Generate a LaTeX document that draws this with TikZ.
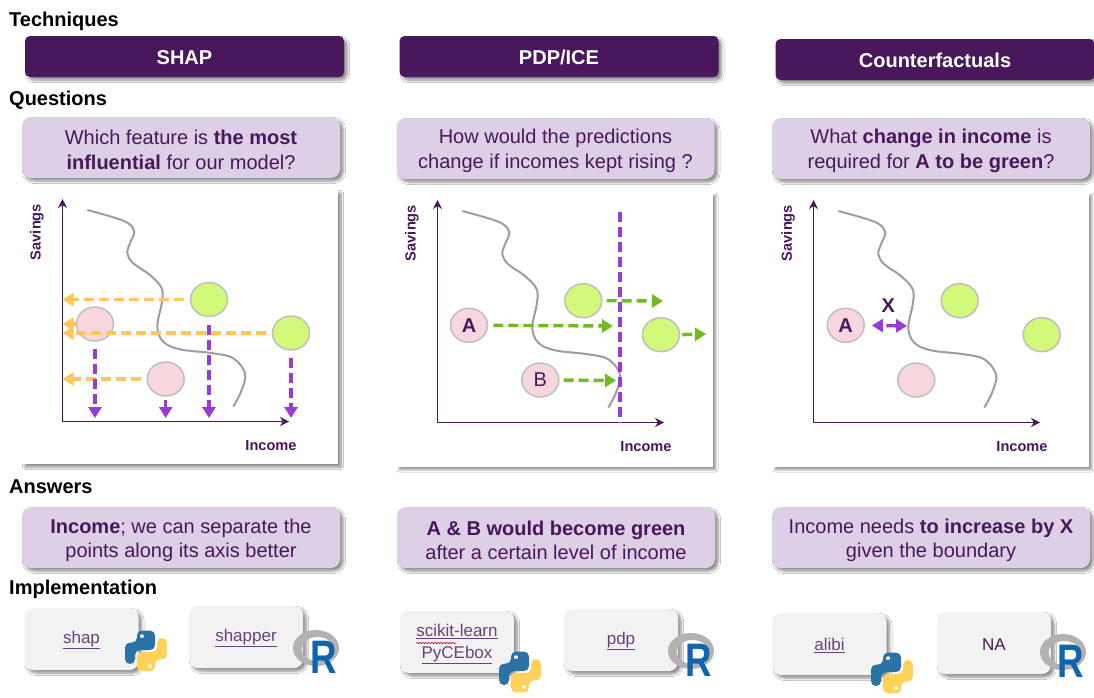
\documentclass[tikz,border=0pt]{standalone}
\usepackage{fontspec}
\setmainfont{Liberation Sans}
\usetikzlibrary{arrows.meta,shapes.geometric,shadows.blur,decorations.pathmorphing}

\definecolor{deeppurple}{HTML}{49175C}
\definecolor{lilac}{HTML}{DDD0E6}
\definecolor{linkpurple}{HTML}{6B4080}
\definecolor{vivid}{HTML}{9B3BD6}
\definecolor{amber}{HTML}{FFC65C}
\definecolor{leaf}{HTML}{70BC20}
\definecolor{limefill}{HTML}{D2F97A}
\definecolor{rosefill}{HTML}{F8D6DE}

\tikzset{
    softshadow/.style={blur shadow={shadow xshift=3pt, shadow yshift=-3pt, shadow blur steps=8, shadow blur radius=2.5pt, shadow opacity=45}},
    droptext/.style={execute at begin node={\rule{0pt}{#1}}},
    headlabel/.style={anchor=west, inner sep=0, font=\fontsize{20}{24}\selectfont\bfseries},
    techbox/.style={rectangle, rounded corners=5, fill=deeppurple, text=white, minimum width=319, minimum height=41, inner sep=0, softshadow, droptext=16.5pt, font=\fontsize{20}{24}\selectfont\bfseries},
    askbox/.style={rectangle, rounded corners=9, fill=lilac, minimum width=318, minimum height=61, inner sep=0, softshadow},
    asktext/.style={inner sep=0, text=deeppurple, align=center, yshift=-2pt, font=\fontsize{20}{25}\selectfont},
    anstext/.style={inner sep=0, text=deeppurple, align=center, yshift=-2.5pt, font=\fontsize{20}{24}\selectfont},
    panelbox/.style={rectangle, fill=white, minimum width=316, minimum height=274, inner sep=0, softshadow},
    implbox/.style={rectangle, rounded corners=9, fill=black!5, text=linkpurple, minimum width=114, minimum height=62, inner sep=0, align=center, softshadow, font=\fontsize{17}{22}\selectfont},
    axislabel/.style={inner sep=0, text=deeppurple, font=\fontsize{14.6}{16}\selectfont\bfseries},
    limept/.style={ellipse, draw=black!25, line width=1.5pt, fill=limefill, minimum width=37, minimum height=34, inner sep=0},
    rosept/.style={ellipse, draw=black!25, line width=1.5pt, fill=rosefill, minimum width=37, minimum height=34, inner sep=0, text=deeppurple, font=\fontsize{20}{24}\selectfont\bfseries},
    fatdash/.style={line width=3.4pt, dash pattern=on 10pt off 5pt},
    amberline/.style={fatdash, amber, -{Triangle[length=11pt,width=13pt]}},
    vividline/.style={fatdash, vivid, -{Triangle[length=11pt,width=13pt]}},
    leafline/.style={fatdash, leaf, -{Triangle[length=11pt,width=13pt]}},
    pylogo/.pic={
        \fill[rounded corners=5, fill={rgb,255:red,43;green,115;blue,166}] (-9,-22)--(9,-22)--(9,-1)--(-11,-1)--(-11,14)--(-21,14)--(-21,-9)--(-9,-9)--cycle;
        \fill[rounded corners=5, fill={rgb,255:red,255;green,210;blue,90}] (9,22)--(-9,22)--(-9,1)--(11,1)--(11,-14)--(21,-14)--(21,9)--(9,9)--cycle;
        \fill[white] (-4,-16)circle(2);
        \fill[white] (4,16)circle(2);
    },
    rlogo/.pic={
        \fill[black!30, even odd rule] (0,0)ellipse(23 and 18) (1.5,1)ellipse(16 and 12);
        \node[inner sep=0, text={rgb,255:red,15;green,100;blue,175}, font=\fontsize{47}{47}\selectfont\bfseries] (rmark) at (8,9){\scalebox{0.78}[1]{R}};
    }
}

\newcommand{\chartbase}[1]{
    \coordinate (#1o) at (62.5,421.5);
    \coordinate (#1t) at (62.5,199);
    \coordinate (#1r) at (289,421.5);
    \draw[-{Stealth[length=9pt,width=9pt]}, line width=1.2pt, deeppurple] (#1o)--(#1t);
    \draw[-{Stealth[length=9pt,width=9pt]}, line width=1.2pt, deeppurple] (#1o)--(#1r);
    \draw[black!38, line width=2pt] plot[smooth, tension=0.6] coordinates {(87.3,210) (113.3,217.3) (128.3,223.3) (134.3,231.7) (130,243.3) (127.3,253.3) (133.3,263.3) (150,275) (161.7,288.3) (161.7,303.3) (157.3,326.7) (163.3,341.7) (180,349.3) (213.3,353.3) (233.3,358.3) (245,373.3) (241.7,390) (233.3,406.7)};
    \node[axislabel, rotate=90] (#1sav) at (37,232){Savings};
    \node[axislabel] (#1inc) at (271,446){Income};
}

\begin{document}
\begin{tikzpicture}[x=1pt, y=-1pt]
    \useasboundingbox (0,0) rectangle (1094,697);
    \fill[white] (0,0) rectangle (1094,697);

    % headings
    \node[headlabel] (headtech) at (9,21.5){Techniques};
    \node[headlabel] (headask) at (9,100){Questions};
    \node[headlabel] (headans) at (9,487){Answers};
    \node[headlabel] (headimpl) at (9,589){Implementation};

    \node[techbox] (techshap) at (184.5,56.5){SHAP};
    \node[techbox] (techpdp) at (559,56.5){PDP/ICE};
    \node[techbox] (techcf) at (935,59.5){Counterfactuals};

    \node[askbox] (askshap) at (181,147.5){};
    \node[askbox] (askpdp) at (555.5,148.5){};
    \node[askbox] (askcf) at (931,148.5){};
    \node[asktext] (askshaptxt) at (askshap.center){Which feature is \textbf{the most}\\\textbf{influential} for our model?};
    \node[asktext] (askpdptxt) at (askpdp.center){How would the predictions\\change if incomes kept rising ?};
    \node[asktext] (askcftxt) at (askcf.center){What \textbf{change in income} is\\required for \textbf{A to be green}?};

    \node[panelbox] (panelshap) at (180,327){};
    \node[panelbox] (panelpdp) at (554.5,329.5){};
    \node[panelbox] (panelcf) at (930.5,329.5){};

    % SHAP chart
    \chartbase{s}
    \coordinate (sfoot) at (62.5,418);
    \node[limept] (sg1) at (209,299.5){};
    \node[limept] (sg2) at (291,333){};
    \node[rosept] (sp1) at (95,324){};
    \node[rosept] (sp2) at (165.7,379){};
    \draw[amberline, shorten <=6pt] (sg1.west)--(sg1.west-|so);
    \draw[amberline, shorten <=6pt] (sg2.west)--(sg2.west-|so);
    \draw[amberline] (sp1.west)--(sp1.west-|so);
    \draw[amberline, shorten <=5pt] (sp2.west)--(sp2.west-|so);
    \draw[vividline, shorten <=7pt] (sp1.south)--(sp1.south|-sfoot);
    \draw[vividline, shorten <=3pt] (sp2.south)--(sp2.south|-sfoot);
    \draw[vividline, shorten <=8pt] (sg1.south)--(sg1.south|-sfoot);
    \draw[vividline, shorten <=7pt] (sg2.south)--(sg2.south|-sfoot);

    % PDP chart
    \begin{scope}[shift={(375,1)}]
        \chartbase{d}
        \node[limept] (dg1) at (208.3,299.7){};
        \node[limept] (dg2) at (286,333.7){};
        \node[rosept] (dA) at (94,324.3){A};
        \node[rosept, font=\fontsize{20}{24}\selectfont] (dB) at (165.3,379){B};
        \coordinate (dtop) at (245,210.7);
        \coordinate (dlow) at (245,421.7);
    \end{scope}
    \draw[vivid, fatdash] (dtop)--(dlow);
    \coordinate (dend1) at (663,301);
    \coordinate (dend2) at (706,334);
    \coordinate (dend3) at (613,326);
    \coordinate (dend4) at (616,380.5);
    \draw[leafline, shorten <=4pt] (dg1.east)--(dend1);
    \draw[leafline, shorten <=2pt] (dg2.east)--(dend2);
    \draw[leafline, shorten <=5pt] (dA.east)--(dend3);
    \draw[leafline, shorten <=4pt] (dB.east)--(dend4);

    % counterfactual chart
    \begin{scope}[shift={(751,1)}]
        \chartbase{c}
        \node[limept] (cg1) at (208.7,299.7){};
        \node[limept] (cg2) at (290.7,333.7){};
        \node[rosept] (cA) at (94.7,324.3){A};
        \node[rosept] (cp) at (165.3,379){};
        \node[inner sep=0, text=deeppurple, font=\fontsize{20}{24}\selectfont\bfseries] (cX) at (137.3,305){X};
        \coordinate (cedge) at (156,325);
    \end{scope}
    \draw[vivid, line width=3.4pt, dash pattern=on 0pt off 4pt on 20pt off 0pt, {Triangle[length=11pt,width=13pt]}-{Triangle[length=11pt,width=13pt]}, shorten <=7pt] (cA.east)--(cedge);

    \node[askbox] (ansshap) at (181,537.5){};
    \node[askbox] (anspdp) at (556,537.5){};
    \node[askbox] (anscf) at (931,537.5){};
    \node[anstext] (ansshaptxt) at (ansshap.center){\textbf{Income}; we can separate the\\points along its axis better};
    \node[anstext] (anspdptxt) at (anspdp.center){\textbf{A \& B would become green}\\after a certain level of income};
    \node[anstext] (anscftxt) at (anscf.center){Income needs \textbf{to increase by X}\\given the boundary};

    % implementations
    \node[implbox, droptext=15pt] (implshap) at (81.5,639){\underline{shap}};
    \node[implbox, droptext=15pt] (implshapper) at (246,637){\underline{shapper}};
    \node[implbox] (implsk) at (457,642){};
    \node[inner sep=0, text=linkpurple, align=center, yshift=-2pt, font=\fontsize{17}{22}\selectfont] (impltxt) at (implsk.center){\underline{scikit-learn}\\\underline{PyCEbox}};
    \node[implbox, droptext=15pt] (implpdp) at (621,640){\underline{pdp}};
    \node[implbox, droptext=15pt] (implali) at (829.5,644){\underline{alibi}};
    \node[implbox, droptext=15pt, text=deeppurple] (implna) at (994,643){NA};
    \draw[red!70!black, line width=0.5pt, decorate, decoration={snake, amplitude=0.7pt, segment length=3pt}] ([xshift=-41pt,yshift=-1pt]implsk.center)--([xshift=-1pt,yshift=-1pt]implsk.center);

    \pic[yscale=0.93] at (146,651){pylogo};
    \pic[yscale=0.93] at (520,672){pylogo};
    \pic[yscale=0.93] at (892,673){pylogo};
    \pic at (316,648){rlogo};
    \pic at (691,651){rlogo};
    \pic at (1063,652){rlogo};
\end{tikzpicture}
\end{document}
